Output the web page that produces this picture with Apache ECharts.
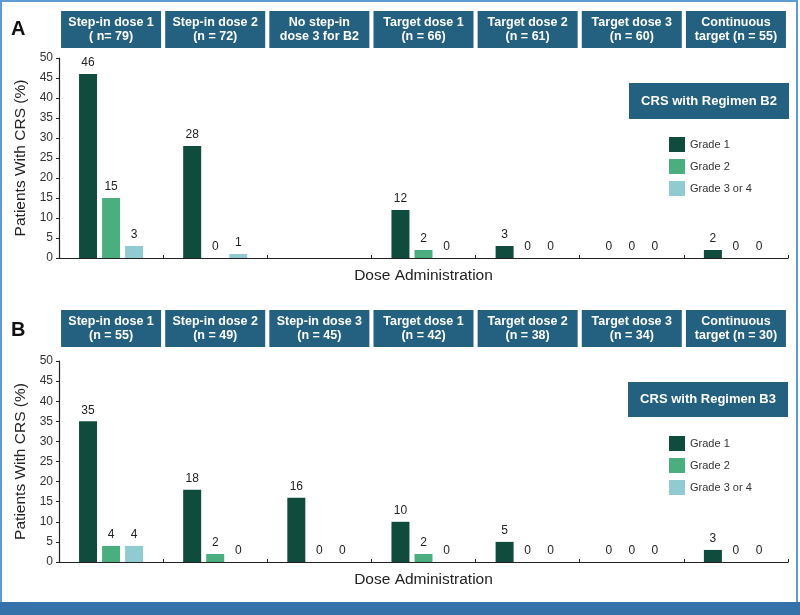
<!DOCTYPE html>
<html>
<head>
<meta charset="utf-8">
<script src="https://cdn.jsdelivr.net/npm/echarts@6/dist/echarts.min.js"></script>
<style>
  html, body { margin: 0; padding: 0; background: #fff; }
  #chart { width: 800px; height: 615px; }
</style>
</head>
<body>
<div id="chart"></div>
<script>
// ========== Data ==========
const doses = ['D1', 'D2', 'D3', 'T1', 'T2', 'T3', 'C'];
const headersA = ['Step-in dose 1\n( n= 79)', 'Step-in dose 2\n(n = 72)', 'No step-in\ndose 3 for B2',
    'Target dose 1\n(n = 66)', 'Target dose 2\n(n = 61)', 'Target dose 3\n(n = 60)', 'Continuous\ntarget (n = 55)'];
const headersB = ['Step-in dose 1\n(n = 55)', 'Step-in dose 2\n(n = 49)', 'Step-in dose 3\n(n = 45)',
    'Target dose 1\n(n = 42)', 'Target dose 2\n(n = 38)', 'Target dose 3\n(n = 34)', 'Continuous\ntarget (n = 30)'];
const gradeNames = ['Grade 1', 'Grade 2', 'Grade 3 or 4'];
// B2 has no step-in dose 3 -> null
const b2Grade1 = [46, 28, null, 12, 3, 0, 2];
const b2Grade2 = [15, 0, null, 2, 0, 0, 0];
const b2Grade34 = [3, 1, null, 0, 0, 0, 0];
const b3Grade1 = [35, 18, 16, 10, 5, 0, 3];
const b3Grade2 = [4, 2, 0, 2, 0, 0, 0];
const b3Grade34 = [4, 0, 0, 0, 0, 0, 0];
const yTicks = { min: 0, max: 50, interval: 5 };

// ========== Style ==========
const FONT = 'Liberation Sans, Arial, Helvetica, sans-serif';
const gradeColors = ['#0f4c3d', '#4bae7f', '#8fcbd0'];
const boxColor = '#24607f';

function bottomAxis(gi) {
    return {
        type: 'category', gridIndex: gi, data: doses, position: 'bottom',
        axisLine: { lineStyle: { color: '#222', width: 1.2 } },
        axisTick: { show: true, inside: true, length: 3, lineStyle: { color: '#222' } },
        axisLabel: { show: false },
        name: 'Dose Administration', nameLocation: 'middle', nameGap: 10,
        nameTextStyle: { fontFamily: FONT, fontSize: 15.5, color: '#222', verticalAlign: 'top' }
    };
}
function topAxis(gi, headers, margin) {
    return {
        type: 'category', gridIndex: gi, data: headers, position: 'top',
        axisLine: { show: false }, axisTick: { show: false },
        axisLabel: {
            interval: 0, margin: margin, color: '#fff', fontFamily: FONT, fontSize: 12.5, fontWeight: 'bold',
            backgroundColor: boxColor, width: 100, height: 29, lineHeight: 14.5,
            padding: [4, 0, 4, 0], align: 'center', verticalAlign: 'bottom'
        }
    };
}
function leftAxis(gi) {
    return {
        type: 'value', gridIndex: gi, min: yTicks.min, max: yTicks.max, interval: yTicks.interval,
        splitLine: { show: false },
        axisLine: { show: true, lineStyle: { color: '#222', width: 1.2 } },
        axisTick: { show: true, length: 3, lineStyle: { color: '#222' } },
        axisLabel: { color: '#333', fontFamily: FONT, fontSize: 12, margin: 6 },
        name: 'Patients With CRS (%)', nameLocation: 'middle', nameGap: 30,
        nameTextStyle: { fontFamily: FONT, fontSize: 15.5, color: '#222' }
    };
}
function barSeries(name, data, gi, ci) {
    return {
        name: name, type: 'bar', xAxisIndex: gi * 2, yAxisIndex: gi, data: data,
        barWidth: 18, barGap: '28%',
        itemStyle: { color: gradeColors[ci] },
        label: { show: true, position: 'top', distance: 5, color: '#222', fontFamily: FONT, fontSize: 12 }
    };
}
function legendFor(top) {
    return {
        data: gradeNames, orient: 'vertical', left: 664, top: top,
        icon: 'rect', itemWidth: 16, itemHeight: 15, itemGap: 7,
        textStyle: { fontFamily: FONT, fontSize: 11, color: '#333' }
    };
}
function titleBox(x, y, h, text) {
    return [
        { type: 'rect', shape: { x: x, y: y, width: 160, height: h }, style: { fill: boxColor } },
        { type: 'text', x: x + 80, y: y + h / 2,
          style: { text: text, fill: '#fff', font: 'bold 13px ' + FONT, align: 'center', verticalAlign: 'middle' } }
    ];
}

const chart = echarts.init(document.getElementById('chart'));
chart.setOption({
    backgroundColor: '#fff',
    animation: false,
    grid: [
        { left: 59, right: 12, top: 58, height: 200 },
        { left: 59, right: 12, top: 361, height: 201 }
    ],
    xAxis: [bottomAxis(0), topAxis(0, headersA, 10), bottomAxis(1), topAxis(1, headersB, 14)],
    yAxis: [leftAxis(0), leftAxis(1)],
    legend: [legendFor(132), legendFor(431)],
    series: [
        barSeries(gradeNames[0], b2Grade1, 0, 0),
        barSeries(gradeNames[1], b2Grade2, 0, 1),
        barSeries(gradeNames[2], b2Grade34, 0, 2),
        barSeries(gradeNames[0], b3Grade1, 1, 0),
        barSeries(gradeNames[1], b3Grade2, 1, 1),
        barSeries(gradeNames[2], b3Grade34, 1, 2)
    ],
    graphic: [
        // frame + bottom band
        { type: 'rect', shape: { x: 1, y: 1, width: 796, height: 612 }, style: { fill: 'none', stroke: '#5d9bd3', lineWidth: 2 } },
        { type: 'rect', shape: { x: 0, y: 602, width: 800, height: 13 }, style: { fill: '#3672aa' } },
        { type: 'text', x: 11, y: 29, style: { text: 'A', font: 'bold 20px ' + FONT, fill: '#111', verticalAlign: 'middle' } },
        { type: 'text', x: 11, y: 330, style: { text: 'B', font: 'bold 20px ' + FONT, fill: '#111', verticalAlign: 'middle' } },
        ...titleBox(629, 83, 36, 'CRS with Regimen B2'),
        ...titleBox(628, 382, 35, 'CRS with Regimen B3')
    ]
});
</script>
</body>
</html>
